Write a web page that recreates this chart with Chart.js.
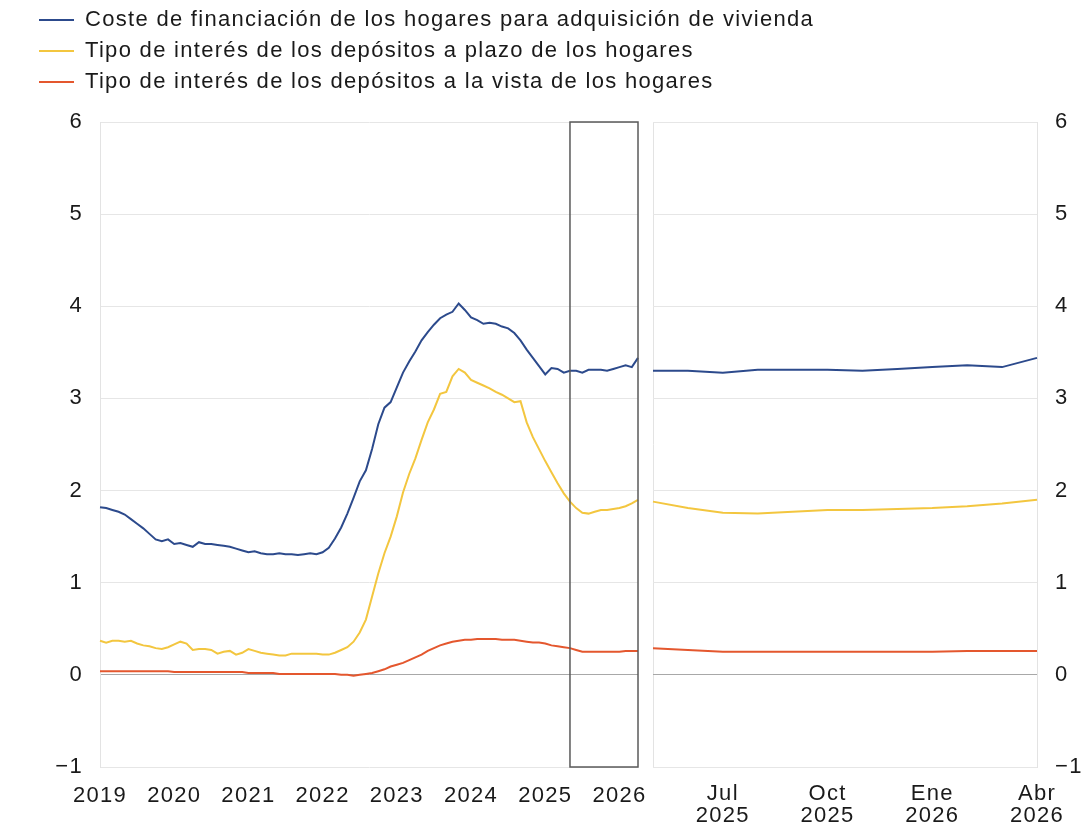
<!DOCTYPE html>
<html lang="es">
<head>
<meta charset="utf-8">
<title>Coste de financiación y tipos de depósitos de los hogares</title>
<script src="https://cdn.jsdelivr.net/npm/chart.js@4.4.1/dist/chart.umd.min.js"></script>
<style>
  body { margin: 0; background: #fff; }
  #wrap { position: relative; width: 1084px; height: 826px; }
  #wrap canvas { position: absolute; left: 0; top: 0; }
</style>
</head>
<body>
<div id="wrap">
  <canvas id="mainChart" width="1084" height="826"></canvas>
  <canvas id="zoomChart" width="1084" height="826"></canvas>
</div>
<script>
// monthly data, Jan 2019 .. Apr 2026
const seriesNames = [
  'Coste de financiación de los hogares para adquisición de vivienda',
  'Tipo de interés de los depósitos a plazo de los hogares',
  'Tipo de interés de los depósitos a la vista de los hogares'
];
const seriesColors = ['#2c4a8c', '#f3c63f', '#e4572e'];

const housingCost = [
  1.82, 1.81, 1.79, 1.77, 1.74, 1.69, 1.64, 1.59, 1.53, 1.47, 1.45, 1.47,
  1.42, 1.43, 1.41, 1.39, 1.44, 1.42, 1.42, 1.41, 1.40, 1.39, 1.37, 1.35,
  1.33, 1.34, 1.32, 1.31, 1.31, 1.32, 1.31, 1.31, 1.30, 1.31, 1.32, 1.31,
  1.33, 1.38, 1.48, 1.60, 1.75, 1.92, 2.10, 2.22, 2.45, 2.72, 2.90, 2.96,
  3.12, 3.28, 3.40, 3.51, 3.63, 3.72, 3.80, 3.87, 3.91, 3.94, 4.03, 3.96,
  3.88, 3.85, 3.81, 3.82, 3.81, 3.78, 3.76, 3.71, 3.63, 3.53, 3.44, 3.35,
  3.26, 3.33, 3.32, 3.28, 3.30, 3.30, 3.28, 3.31, 3.31, 3.31, 3.30, 3.32,
  3.34, 3.36, 3.34, 3.44
];
const termDeposits = [
  0.37, 0.35, 0.37, 0.37, 0.36, 0.37, 0.34, 0.32, 0.31, 0.29, 0.28, 0.30,
  0.33, 0.36, 0.34, 0.27, 0.28, 0.28, 0.27, 0.23, 0.25, 0.26, 0.22, 0.24,
  0.28, 0.26, 0.24, 0.23, 0.22, 0.21, 0.21, 0.23, 0.23, 0.23, 0.23, 0.23,
  0.22, 0.22, 0.24, 0.27, 0.30, 0.36, 0.46, 0.60, 0.85, 1.10, 1.32, 1.50,
  1.72, 1.98, 2.18, 2.35, 2.55, 2.74, 2.88, 3.05, 3.07, 3.24, 3.32, 3.28,
  3.20, 3.17, 3.14, 3.11, 3.07, 3.04, 3.00, 2.96, 2.97, 2.74, 2.58, 2.45,
  2.32, 2.20, 2.08, 1.97, 1.88, 1.81, 1.76, 1.75, 1.77, 1.79, 1.79, 1.80,
  1.81, 1.83, 1.86, 1.90
];
const sightDeposits = [
  0.04, 0.04, 0.04, 0.04, 0.04, 0.04, 0.04, 0.04, 0.04, 0.04, 0.04, 0.04,
  0.03, 0.03, 0.03, 0.03, 0.03, 0.03, 0.03, 0.03, 0.03, 0.03, 0.03, 0.03,
  0.02, 0.02, 0.02, 0.02, 0.02, 0.01, 0.01, 0.01, 0.01, 0.01, 0.01, 0.01,
  0.01, 0.01, 0.01, 0.00, 0.00, -0.01, 0.00, 0.01, 0.02, 0.04, 0.06, 0.09,
  0.11, 0.13, 0.16, 0.19, 0.22, 0.26, 0.29, 0.32, 0.34, 0.36, 0.37, 0.38,
  0.38, 0.39, 0.39, 0.39, 0.39, 0.38, 0.38, 0.38, 0.37, 0.36, 0.35, 0.35,
  0.34, 0.32, 0.31, 0.30, 0.29, 0.27, 0.25, 0.25, 0.25, 0.25, 0.25, 0.25,
  0.25, 0.26, 0.26, 0.26
];

const yearTicks = ['2019', '2020', '2021', '2022', '2023', '2024', '2025', '2026'];
const zoomTickMonths = ['2025-07', '2025-10', '2026-01', '2026-04'];
const zoomTickLabels = [['Jul', '2025'], ['Oct', '2025'], ['Ene', '2026'], ['Abr', '2026']];
const zoomStart = '2025-05';
const yMin = -1, yMax = 6;

// month keys for the category axis
const months = [];
for (let i = 0; i < housingCost.length; i++) {
  const y = 2019 + Math.floor(i / 12);
  const m = (i % 12) + 1;
  months.push(y + '-' + (m < 10 ? '0' + m : m));
}
const zoomFrom = months.indexOf(zoomStart);
const zoomMonths = months.slice(zoomFrom);

const FONT = 'Liberation Sans, Arial, sans-serif';
const TXT = '#1a1a1a';
Chart.defaults.font.family = FONT;
Chart.defaults.color = TXT;

// the original lettering is set a bit wider than Arial
Chart.register({
  id: 'spacing',
  beforeLayout(chart) { chart.ctx.letterSpacing = '1.3px'; },
  beforeDraw(chart) { chart.ctx.letterSpacing = '1.3px'; }
});

function makeDatasets(from) {
  return [housingCost, termDeposits, sightDeposits].map((arr, i) => ({
    label: seriesNames[i],
    data: arr.slice(from),
    borderColor: seriesColors[i],
    backgroundColor: seriesColors[i],
    borderWidth: 2,
    pointRadius: 0,
    tension: 0
  }));
}

function yGrid(ctx) {
  return ctx.tick && ctx.tick.value === 0 ? '#a8a8a8' : '#e6e6e6';
}

function yTickLabel(v) {
  return v < 0 ? '\u2212' + Math.abs(v) : String(v);
}

// extra gap under the legend
const legendGap = {
  id: 'legendGap',
  beforeLayout(chart) {
    if (chart.legend && !chart.legend._gapDone) {
      const fit = chart.legend.fit;
      chart.legend.fit = function () { fit.call(this); this.height += 19; };
      chart.legend._gapDone = true;
    }
  }
};

// rectangle marking the zoomed period
const zoomBox = {
  id: 'zoomBox',
  afterDatasetsDraw(chart) {
    const x = chart.scales.x, y = chart.scales.y;
    const x0 = x.getPixelForValue(zoomFrom);
    const x1 = x.getPixelForValue(months.length - 1);
    const y0 = y.getPixelForValue(yMax);
    const y1 = y.getPixelForValue(yMin);
    const c = chart.ctx;
    c.save();
    c.strokeStyle = '#5a5a5a';
    c.lineWidth = 1.5;
    c.strokeRect(x0, y0, x1 - x0, y1 - y0);
    c.restore();
  }
};

new Chart(document.getElementById('mainChart'), {
  type: 'line',
  data: { labels: months, datasets: makeDatasets(0) },
  plugins: [legendGap, zoomBox],
  options: {
    responsive: false,
    animation: false,
    layout: { padding: { left: 30, right: 0, top: 0, bottom: 0 } },
    plugins: {
      tooltip: { enabled: false },
      legend: {
        position: 'top',
        align: 'start',
        labels: {
          usePointStyle: true,
          pointStyle: 'line',
          pointStyleWidth: 35,
          boxHeight: 22,
          padding: 9,
          color: TXT,
          font: { size: 22, family: FONT }
        }
      }
    },
    scales: {
      x: {
        type: 'category',
        grid: { display: false, drawTicks: false },
        border: { display: false },
        afterFit(s) { s.height = 59; },
        ticks: {
          autoSkip: false,
          maxRotation: 0,
          minRotation: 0,
          padding: 16,
          font: { size: 22 },
          callback(v, i) {
            return i % 12 === 0 ? yearTicks[i / 12] : '';
          }
        }
      },
      y: {
        min: yMin,
        max: yMax,
        afterFit(s) { s.width = 70; },
        grid: { color: yGrid, drawTicks: false },
        border: { color: '#e3e3e3' },
        ticks: { stepSize: 1, padding: 17, font: { size: 22 }, callback: yTickLabel }
      },
      // empty axis that keeps the right part of this canvas free for the zoom panel
      spacer: {
        type: 'linear',
        axis: 'y',
        position: 'right',
        grid: { display: false, drawTicks: false },
        border: { display: false },
        ticks: { display: false },
        afterFit(s) { s.width = 446; }
      }
    }
  }
});

new Chart(document.getElementById('zoomChart'), {
  type: 'line',
  data: { labels: zoomMonths, datasets: makeDatasets(zoomFrom) },
  options: {
    responsive: false,
    animation: false,
    layout: { padding: { left: 653, right: 0, top: 122, bottom: 0 } },
    plugins: { legend: { display: false }, tooltip: { enabled: false } },
    scales: {
      x: {
        type: 'category',
        grid: {
          drawTicks: false,
          color: ctx => (ctx.index === 0 ? '#e3e3e3' : 'rgba(0,0,0,0)')
        },
        border: { display: false },
        afterFit(s) { s.height = 59; },
        ticks: {
          autoSkip: false,
          maxRotation: 0,
          minRotation: 0,
          padding: 16,
          font: { size: 22, lineHeight: 1.0 },
          callback(v, i) {
            const k = zoomTickMonths.indexOf(zoomMonths[i]);
            return k >= 0 ? zoomTickLabels[k] : '';
          }
        }
      },
      y: {
        position: 'right',
        min: yMin,
        max: yMax,
        afterFit(s) { s.width = 47; },
        grid: { color: yGrid, drawTicks: false },
        border: { color: '#e3e3e3' },
        ticks: { stepSize: 1, padding: 18, font: { size: 22 }, callback: yTickLabel }
      }
    }
  }
});
</script>
</body>
</html>
